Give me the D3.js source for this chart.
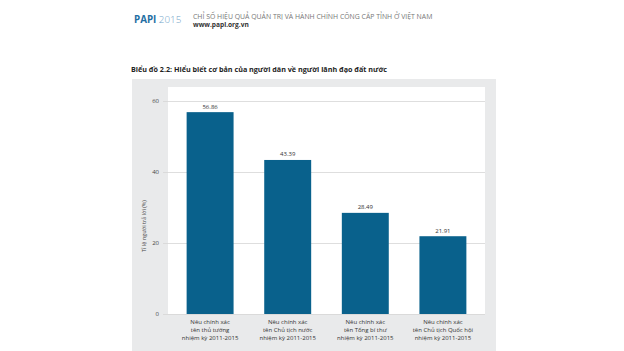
<!DOCTYPE html>
<html>
<head>
<meta charset="utf-8">
<script src="https://cdn.jsdelivr.net/npm/d3@7"></script>
<style>
  body { margin: 0; background: #fff; }
  svg { display: block; font-family: "Open Sans", "Noto Sans", sans-serif; }
</style>
</head>
<body>
<div id="chart"></div>
<script>
// Data
const categories = [
  ["Nêu chính xác", "tên thủ tướng", "nhiệm kỳ 2011-2015"],
  ["Nêu chính xác", "tên Chủ tịch nước", "nhiệm kỳ 2011-2015"],
  ["Nêu chính xác", "tên Tổng bí thư", "nhiệm kỳ 2011-2015"],
  ["Nêu chính xác", "tên Chủ tịch Quốc hội", "nhiệm kỳ 2011-2015"]
];
const values = [56.86, 43.39, 28.49, 21.91];
const yTicks = [0, 20, 40, 60];

const W = 624, H = 351;
const svg = d3.select("#chart").append("svg")
  .attr("width", W).attr("height", H);

// Header
const header = svg.append("text").attr("x", 134).attr("y", 23)
  .style("font-size", "9.8px");
header.append("tspan").text("PAPI").attr("fill", "#1f6fa3").style("font-weight", 700);
header.append("tspan").text(" 2015").attr("fill", "#6fa3c8").style("font-weight", 300);

svg.append("text").attr("x", 193).attr("y", 19)
  .attr("fill", "#777").style("font-size", "6.9px")
  .text("CHỈ SỐ HIỆU QUẢ QUẢN TRỊ VÀ HÀNH CHÍNH CÔNG CẤP TỈNH Ở VIỆT NAM");
svg.append("text").attr("x", 193).attr("y", 27)
  .attr("fill", "#333").style("font-size", "6.6px").style("font-weight", 700)
  .text("www.papi.org.vn");

// Title
svg.append("text").attr("x", 131).attr("y", 72)
  .attr("fill", "#222").style("font-size", "7.2px").style("font-weight", 700)
  .text("Biểu đồ 2.2: Hiểu biết cơ bản của người dân về người lãnh đạo đất nước");

// Gray panel
svg.append("rect").attr("x", 132).attr("y", 79)
  .attr("width", 364).attr("height", H - 79)
  .attr("fill", "#e9eaeb");

const plot = { left: 168, right: 485, top: 87, bottom: 314 };

const x = d3.scaleBand()
  .domain(d3.range(values.length))
  .range([plot.left, plot.right])
  .paddingInner(0.395).paddingOuter(0.24);

const y = d3.scaleLinear()
  .domain([0, 60])
  .range([plot.bottom, 101]);

// White plotting area
svg.append("rect")
  .attr("x", plot.left).attr("y", plot.top)
  .attr("width", plot.right - plot.left).attr("height", plot.bottom - plot.top)
  .attr("fill", "#fff");

// Gridlines + y-axis
const yAxis = svg.append("g")
  .attr("transform", `translate(${plot.right},0)`)
  .call(d3.axisLeft(y).tickValues(yTicks).tickSize(plot.right - 163).tickPadding(4));
yAxis.select(".domain").remove();
yAxis.selectAll(".tick line").attr("stroke", "#d6d6d6").attr("stroke-width", 0.8);
yAxis.selectAll(".tick text")
  .attr("fill", "#444").style("font-size", "6px")
  .style("font-family", "\"Open Sans\", sans-serif");

svg.append("text")
  .attr("transform", `translate(146,226) rotate(-90)`)
  .attr("text-anchor", "middle")
  .attr("fill", "#444").style("font-size", "5.5px")
  .text("Tỉ lệ người trả lời (%)");

// Bars
svg.selectAll(".bar")
  .data(values)
  .join("rect")
  .attr("class", "bar")
  .attr("x", (d, i) => x(i))
  .attr("y", d => y(d))
  .attr("width", x.bandwidth())
  .attr("height", d => y(0) - y(d))
  .attr("fill", "#09618c");

// Value labels
svg.selectAll(".val")
  .data(values)
  .join("text")
  .attr("class", "val")
  .attr("x", (d, i) => x(i) + x.bandwidth() / 2)
  .attr("y", d => y(d) - 3.5)
  .attr("text-anchor", "middle")
  .attr("fill", "#333").style("font-size", "6px")
  .text(d => d.toFixed(2));

// Category labels
const cat = svg.selectAll(".cat")
  .data(categories)
  .join("text")
  .attr("class", "cat")
  .attr("text-anchor", "middle")
  .attr("fill", "#333").style("font-size", "6px");
cat.selectAll("tspan")
  .data((d, i) => d.map(line => ({ line, i })))
  .join("tspan")
  .attr("x", d => x(d.i) + x.bandwidth() / 2)
  .attr("y", (d, j) => 324 + j * 8)
  .text(d => d.line);
</script>
</body>
</html>
